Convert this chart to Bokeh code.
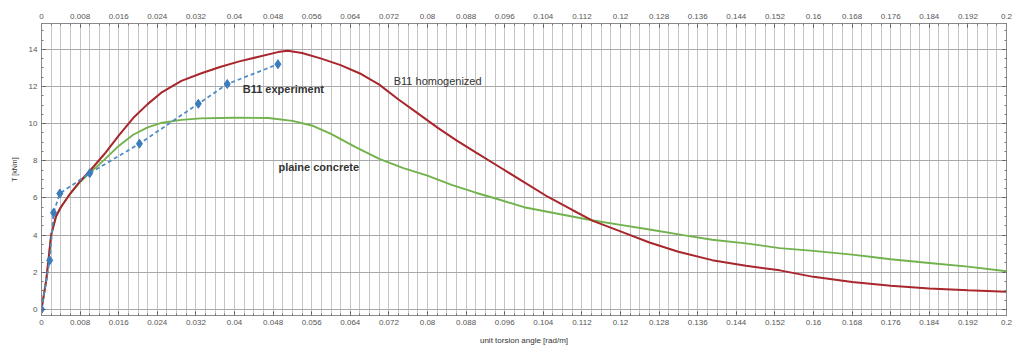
from bokeh.plotting import figure
from bokeh.models import LinearAxis, FixedTicker, CustomJSTickFormatter, Range1d
from bokeh.core.properties import value
from bokeh.embed import file_html
from bokeh.resources import INLINE

# ---- data ----
homog_x = [0, 0.001, 0.002, 0.003, 0.004, 0.006, 0.008, 0.010, 0.013, 0.016, 0.019, 0.022,
           0.025, 0.029, 0.033, 0.037, 0.041, 0.045, 0.049, 0.051, 0.054, 0.058, 0.062, 0.066,
           0.070, 0.074, 0.078, 0.082, 0.086, 0.090, 0.095, 0.100, 0.105, 0.110, 0.1144, 0.120,
           0.126, 0.132, 0.139, 0.146, 0.153, 0.160, 0.168, 0.176, 0.184, 0.192, 0.200]
homog_y = [0, 1.6, 4.0, 5.0, 5.5, 6.25, 6.9, 7.45, 8.35, 9.35, 10.3, 11.05,
           11.7, 12.3, 12.7, 13.05, 13.35, 13.6, 13.85, 13.92, 13.8, 13.5, 13.15, 12.7,
           12.1, 11.3, 10.55, 9.8, 9.1, 8.45, 7.65, 6.85, 6.05, 5.35, 4.75, 4.2,
           3.6, 3.1, 2.65, 2.35, 2.1, 1.75, 1.47, 1.27, 1.13, 1.03, 0.95]

plain_x = [0, 0.001, 0.002, 0.003, 0.004, 0.006, 0.008, 0.010, 0.013, 0.016, 0.019, 0.022,
           0.025, 0.029, 0.033, 0.040, 0.047, 0.052, 0.056, 0.060, 0.065, 0.070, 0.075, 0.080,
           0.085, 0.090, 0.095, 0.100, 0.107, 0.114, 0.120, 0.126, 0.133, 0.139, 0.146, 0.153,
           0.160, 0.168, 0.176, 0.184, 0.192, 0.200]
plain_y = [0, 1.6, 4.0, 5.0, 5.5, 6.25, 6.85, 7.35, 8.05, 8.8, 9.4, 9.8,
           10.05, 10.2, 10.28, 10.32, 10.3, 10.15, 9.9, 9.45, 8.75, 8.1, 7.6, 7.2,
           6.7, 6.28, 5.9, 5.5, 5.15, 4.8, 4.55, 4.3, 4.0, 3.75, 3.55, 3.3,
           3.15, 2.95, 2.7, 2.5, 2.3, 2.05]

exp_x = [0, 0.0017, 0.0025, 0.0038, 0.0100, 0.0203, 0.0325, 0.0385, 0.0490]
exp_y = [0, 2.64, 5.2, 6.24, 7.33, 8.92, 11.07, 12.13, 13.2]

x_major = [round(i * 0.008, 3) for i in range(26)]
x_minor = [round(i * 0.002, 3) for i in range(101)]
y_major = [0, 2, 4, 6, 8, 10, 12, 14]
y_minor = [i * 0.5 for i in range(31)]

label_text = ["B11 experiment", "B11 homogenized", "plaine concrete"]
label_x = [0.0417, 0.0730, 0.0491]
label_y = [11.86, 12.3, 7.64]
label_style = ["bold", "normal", "bold"]

FONT = "Liberation Sans"
fmt = CustomJSTickFormatter(code="return String(Number(tick.toFixed(3)));")
blank = CustomJSTickFormatter(code="return '';")

p = figure(width=1014, height=347, output_backend="svg", toolbar_location=None,
           x_range=Range1d(0, 0.2), y_range=Range1d(-0.33, 15.39),
           min_border_left=41, min_border_right=8, min_border_top=23, min_border_bottom=20)
p.background_fill_color = "white"
p.outline_line_color = "#8a8a8a"
p.outline_line_width = 1

xt = FixedTicker(ticks=x_major, minor_ticks=x_minor)
yt = FixedTicker(ticks=y_major, minor_ticks=y_minor)

def style_axis(ax):
    ax.major_tick_in = 4
    ax.major_tick_out = 0
    ax.minor_tick_in = 2
    ax.minor_tick_out = 0
    ax.major_tick_line_color = "#555555"
    ax.minor_tick_line_color = "#777777"
    ax.axis_line_color = "#8a8a8a"
    ax.major_label_text_font = FONT
    ax.major_label_text_font_size = "8px"
    ax.major_label_text_color = "#555555"
    ax.major_label_standoff = 4
    ax.axis_label_text_font = FONT
    ax.axis_label_text_font_style = "normal"
    ax.axis_label_text_color = "#333333"
    ax.axis_label_text_font_size = "8px"
    ax.axis_label_standoff = 8

xa = p.xaxis[0]
xa.ticker = xt
xa.formatter = fmt
xa.axis_label = "unit torsion angle [rad/m]"
style_axis(xa)

ya = p.yaxis[0]
ya.ticker = yt
ya.axis_label = "T [kNm]"
style_axis(ya)
ya.axis_label_text_font_size = "7px"
ya.axis_label_standoff = 8

top = LinearAxis(ticker=FixedTicker(ticks=x_major, minor_ticks=x_minor), formatter=fmt)
style_axis(top)
top.major_label_standoff = 5
p.add_layout(top, "above")

right = LinearAxis(ticker=FixedTicker(ticks=y_major, minor_ticks=y_minor), formatter=blank)
style_axis(right)
p.add_layout(right, "right")

p.xgrid.ticker = xt
p.xgrid.grid_line_color = "#c4c4c4"
p.xgrid.grid_line_width = 1
p.xgrid.minor_grid_line_color = "#c4c4c4"
p.xgrid.minor_grid_line_width = 1
p.ygrid.ticker = yt
p.ygrid.grid_line_color = "#a9a9a9"
p.ygrid.grid_line_width = 1

p.line(plain_x, plain_y, line_color="#72b24c", line_width=1.9)
p.line(homog_x, homog_y, line_color="#a8262c", line_width=2)
p.line(exp_x, exp_y, line_color="#4f8cc8", line_width=1.8, line_dash="4 3")
p.scatter(exp_x, exp_y, marker="diamond", size=9, fill_color="#3a7dbd",
          line_color="#3a7dbd")

for t, x, y, s in zip(label_text, label_x, label_y, label_style):
    p.text(x=[x], y=[y], text=[t], text_font=value(FONT), text_font_size="11px",
           text_font_style=s, text_color="#333333", text_baseline="middle",
           text_align="left")

open("out.html", "w").write(file_html(p, INLINE))
